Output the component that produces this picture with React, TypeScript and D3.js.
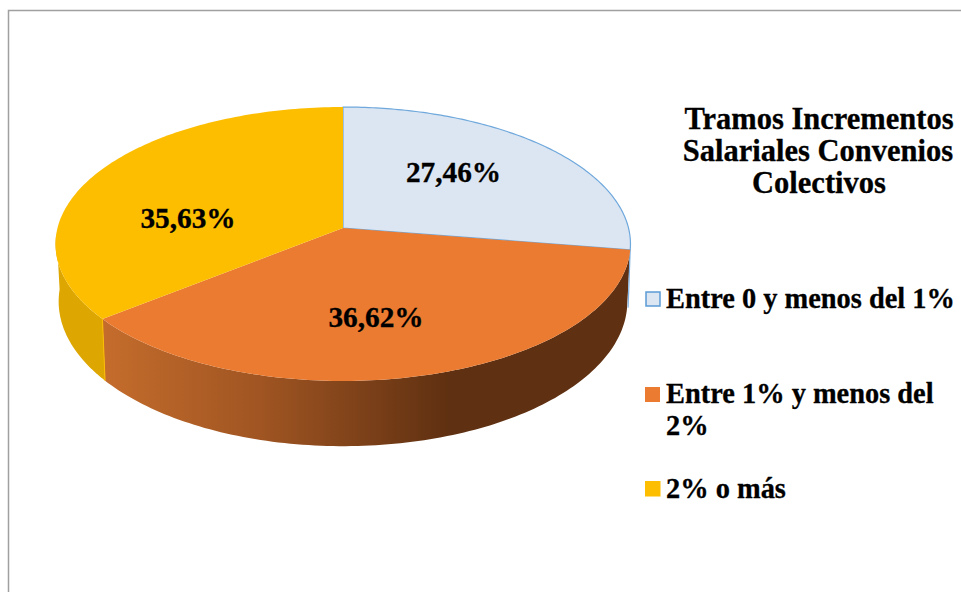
import React from "react";
import * as d3 from "d3";

const categories = ["Entre 0 y menos del 1%", "Entre 1% y menos del 2%", "2% o más"];
const values = [27.46, 36.62, 35.63];
const valueLabels = ["27,46%", "36,62%", "35,63%"];
const topColors = ["#DCE6F2", "#EB7B30", "#FDBE00"];
const titleLines = ["Tramos Incrementos", "Salariales Convenios", "Colectivos"];

const FONT = "'Liberation Serif', serif";
const a1 = 285.5, b1 = 135.1, k = -0.1168, cy1 = 228;
const a2 = 282.4, b2 = 142.8, cy2 = 284.5;
const cx = 343;

function top(t: number): [number, number] {
  const u = Math.sin(t), v = -Math.cos(t), d = 1 + k * v;
  return [cx + (a1 * u) / d, cy1 + (b1 * v) / d];
}
function bot(t: number): [number, number] {
  const u = Math.sin(t), v = -Math.cos(t), d = 1 + k * v;
  return [cx + (a2 * u) / d, cy2 + (b2 * v) / d];
}
function arcPts(f: (t: number) => [number, number], t0: number, t1: number) {
  return d3.range(0, 121).map((i) => f(t0 + ((t1 - t0) * i) / 120));
}
const line = d3.line();

export default function App() {
  const slices = d3.pie<number>().sort(null)(values);
  const wallEnd = (268 * Math.PI) / 180;
  const s1 = slices[0].endAngle, s2 = slices[1].endAngle;
  const orangeWall = [...arcPts(top, s1, s2), ...arcPts(bot, s1, s2).reverse()];
  const yellowWall = [...arcPts(top, s2, wallEnd), ...arcPts(bot, s2, wallEnd).reverse()];
  return (
    <svg width={961} height={592} style={{ position: "absolute", left: 0, top: 0 }} fontFamily={FONT} fontWeight="bold">
      <defs>
        <linearGradient id="og" gradientUnits="userSpaceOnUse" x1={104} x2={626} y1={0} y2={0}>
          <stop offset="0" stopColor="#C46C2C" />
          <stop offset="0.3" stopColor="#A05522" />
          <stop offset="0.66" stopColor="#5F3011" />
          <stop offset="1" stopColor="#5F3011" />
        </linearGradient>
      </defs>
      <rect width={961} height={592} fill="#fff" />
      <path d="M961 10.5H8.5V592" fill="none" stroke="#A0A0A0" strokeWidth={1.5} />
      <path d={line(yellowWall)!} fill="#DDA600" />
      <path d={line(orangeWall)!} fill="url(#og)" />
      <path d={line([top(s1), [bot(s1)[0] + 1, bot(s1)[1]]])!} stroke="#7FB2E2" strokeWidth={1.2} fill="none" />
      <path d={line([top(s2), bot(s2)])!} stroke="#FDBE00" strokeWidth={1} fill="none" />
      {slices.map((s, i) => {
        const pts = [top(0), ...arcPts(top, s.startAngle, s.endAngle)];
        pts[0] = [cx, cy1];
        return (
          <path
            key={i}
            d={line(pts)! + "Z"}
            fill={topColors[i]}
            stroke={i === 0 ? "#6FA8DC" : "none"}
            strokeWidth={i === 0 ? 1.2 : 0}
          />
        );
      })}
      <g fontSize={29.3} textAnchor="middle" fill="#000" stroke="#000" strokeWidth={0.3}>
        <text x={453.5} y={182}>{valueLabels[0]}</text>
        <text x={376} y={327}>{valueLabels[1]}</text>
        <text x={188} y={228}>{valueLabels[2]}</text>
      </g>
      <g fontSize={30.5} textAnchor="middle" fill="#000" stroke="#000" strokeWidth={0.3}>
        <text x={819} y={129}>{titleLines[0]}</text>
        <text x={818} y={161}>{titleLines[1]}</text>
        <text x={819} y={193}>{titleLines[2]}</text>
      </g>
      <rect x={646} y={292} width={14} height={14} fill={topColors[0]} stroke="#5B9BD5" strokeWidth={1.5} />
      <rect x={645} y={387} width={15} height={15} fill={topColors[1]} />
      <rect x={645} y={481} width={15.5} height={15.5} fill={topColors[2]} />
      <g fontSize={28.4} fill="#000" stroke="#000" strokeWidth={0.3}>
        <text x={666} y={308}>{categories[0]}</text>
        <text x={666} y={403}>Entre 1% y menos del</text>
        <text x={666} y={435}>2%</text>
        <text x={666} y={498}>{categories[2]}</text>
      </g>
    </svg>
  );
}
